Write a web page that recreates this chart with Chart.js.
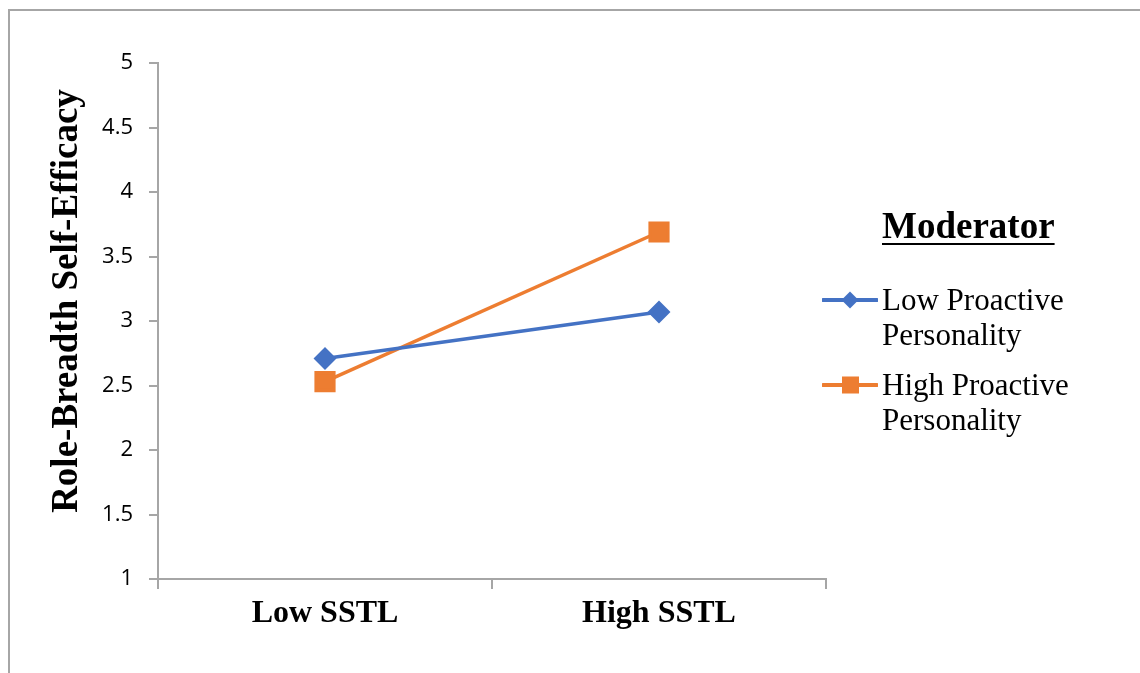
<!DOCTYPE html>
<html>
<head>
<meta charset="utf-8">
<script src="https://cdn.jsdelivr.net/npm/chart.js@4/dist/chart.umd.min.js"></script>
<style>
  html, body { margin: 0; padding: 0; background: #fff; }
  #wrap { position: relative; width: 1140px; height: 673px; overflow: hidden; }
  #frame { position: absolute; left: 8px; top: 9px; width: 1200px; height: 700px;
           border-top: 2px solid #a6a6a6; border-left: 2px solid #a6a6a6; }
  #chart { position: absolute; left: 0; top: 0; }
  .serif { font-family: "Liberation Serif", "Times New Roman", serif; color: #000; position: absolute; }
  #legTitle { left: 882px; top: 206px; font-size: 37px; line-height: 40px; font-weight: bold;
              text-decoration: underline; text-decoration-thickness: 2px; text-underline-offset: 5px; }
  .legText { left: 882px; font-size: 31px; line-height: 35px; white-space: nowrap; }
  .legMark { position: absolute; left: 822px; }
</style>
</head>
<body>
<div id="wrap">
  <div id="frame"></div>
  <canvas id="chart" width="1140" height="673"></canvas>
  <div id="legTitle" class="serif">Moderator</div>
  <svg class="legMark" style="top:290px" width="56" height="20">
    <line x1="1" y1="10" x2="55" y2="10" stroke="#4472c4" stroke-width="4" stroke-linecap="round"/>
    <polygon points="28,1.5 36.5,10 28,18.5 19.5,10" fill="#4472c4"/>
  </svg>
  <div class="serif legText" style="top:282px">Low Proactive<br>Personality</div>
  <svg class="legMark" style="top:375px" width="56" height="20">
    <line x1="1" y1="10" x2="55" y2="10" stroke="#ed7d31" stroke-width="4" stroke-linecap="round"/>
    <rect x="20" y="1.5" width="17" height="17" fill="#ed7d31"/>
  </svg>
  <div class="serif legText" style="top:367px">High Proactive<br>Personality</div>
</div>
<script>
const categories = ["Low SSTL", "High SSTL"];
const lowProactive = [2.71, 3.07];
const highProactive = [2.53, 3.69];
const yTicks = [1, 1.5, 2, 2.5, 3, 3.5, 4, 4.5, 5];
const yTitle = "Role-Breadth Self-Efficacy";

const axisColor = "#a6a6a6";

// y title drawn by hand: it sits a bit above the middle of the axis in the original
const yTitlePlugin = {
  id: "yTitle",
  afterDraw(chart) {
    const c = chart.ctx;
    c.save();
    c.translate(67, 301);
    c.rotate(-Math.PI / 2);
    c.font = "bold 37px 'Liberation Serif'";
    c.fillStyle = "#000";
    c.textAlign = "center";
    c.textBaseline = "middle";
    c.fillText(yTitle, 0, 0);
    c.restore();
  },
};

const ctx = document.getElementById("chart").getContext("2d");
new Chart(ctx, {
  type: "line",
  data: {
    labels: categories,
    datasets: [
      {
        label: "Low Proactive Personality",
        data: lowProactive,
        borderColor: "#4472c4",
        backgroundColor: "#4472c4",
        borderWidth: 3.5,
        pointStyle: "rectRot",
        pointRadius: 9,
        tension: 0,
      },
      {
        label: "High Proactive Personality",
        data: highProactive,
        borderColor: "#ed7d31",
        backgroundColor: "#ed7d31",
        borderWidth: 3.5,
        pointStyle: "rect",
        pointRadius: 12.5,
        tension: 0,
      },
    ],
  },
  options: {
    responsive: false,
    animation: false,
    layout: { padding: { left: 40, right: 314, top: 63, bottom: 34 } },
    plugins: { legend: { display: false }, tooltip: { enabled: false } },
    scales: {
      x: {
        offset: true,
        grid: { offset: true, drawOnChartArea: false, drawTicks: true, tickLength: 10, color: axisColor, lineWidth: 2 },
        border: { color: axisColor, width: 2 },
        ticks: { color: "#000", padding: 6, font: { family: "Liberation Serif", size: 32, weight: "bold" } },
        afterFit: (scale) => { scale.height = 60; },
      },
      y: {
        min: 1,
        max: 5,
        afterBuildTicks: (scale) => { scale.ticks = yTicks.map((v) => ({ value: v })); },
        grid: { drawOnChartArea: false, drawTicks: true, tickLength: 9, color: axisColor, lineWidth: 2 },
        border: { color: axisColor, width: 2 },
        ticks: {
          color: "#000",
          padding: 16,
          font: { family: "Open Sans", size: 22 },
          callback: (v) => String(v),
        },
        afterFit: (scale) => { scale.width = 118; },
      },
    },
  },
  plugins: [yTitlePlugin],
});
</script>
</body>
</html>
